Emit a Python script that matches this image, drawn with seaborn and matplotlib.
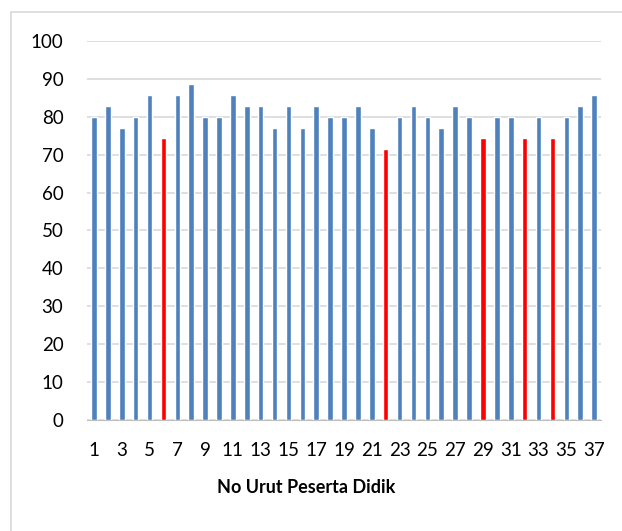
import seaborn as sns
import matplotlib.pyplot as plt
from matplotlib.patches import Rectangle

students = [str(i) for i in range(1, 38)]
scores = [80, 82.9, 77.1, 80, 85.7, 74.3, 85.7, 88.6, 80, 80,
          85.7, 82.9, 82.9, 77.1, 82.9, 77.1, 82.9, 80, 80, 82.9,
          77.1, 71.4, 80, 82.9, 80, 77.1, 82.9, 80, 74.3, 80,
          80, 74.3, 80, 74.3, 80, 82.9, 85.7]
below_kkm = ["6", "22", "29", "32", "34"]
tick_labels = [s if int(s) % 2 == 1 else "" for s in students]

sns.set_style("white")
plt.rcParams['font.family'] = ['Lato', 'DejaVu Sans']
plt.rcParams['text.color'] = 'black'
plt.rcParams['xtick.color'] = 'black'
plt.rcParams['ytick.color'] = 'black'

colors = {s: ("#FF0000" if s in below_kkm else "#4F81BD") for s in students}

fig = plt.figure(figsize=(6.22, 5.31), dpi=100)
ax = fig.add_axes([0.1399, 0.209, 0.8264, 0.714])

sns.barplot(x=students, y=scores, hue=students, palette=colors, legend=False,
            width=0.4, saturation=1, ax=ax, zorder=3)

ax.set_ylim(0, 100)
ax.set_yticks(range(0, 101, 10))
ax.set_xlim(-0.5, 36.5)
ax.set_xticks(range(len(students)))
ax.set_xticklabels(tick_labels)
ax.tick_params(axis='both', length=0, labelsize=13.5)
ax.tick_params(axis='y', pad=17)
ax.tick_params(axis='x', pad=16)
ax.yaxis.grid(True, color="#D9D9D9", linewidth=1.2, zorder=0)
for side in ["top", "right", "left"]:
    ax.spines[side].set_visible(False)
ax.spines["bottom"].set_color("#BFBFBF")
ax.set_xlabel("")
ax.set_ylabel("")

fig.text(0.492, 0.081, "No Urut Peserta Didik", fontsize=13, fontweight="bold",
         ha="center", va="center")

fig.patches.append(Rectangle((0.0177, -0.1), 1.0, 1.077, transform=fig.transFigure,
                             fill=False, edgecolor="#D9D9D9", linewidth=1.2))

plt.savefig("out.png", dpi=100)
